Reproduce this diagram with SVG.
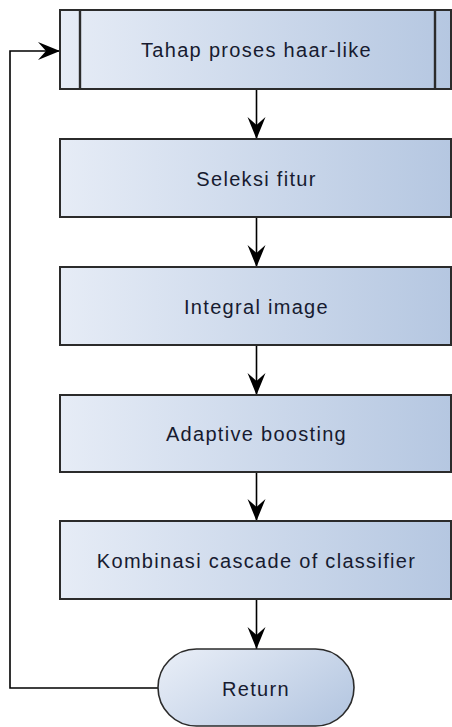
<svg xmlns="http://www.w3.org/2000/svg" width="452" height="727" viewBox="0 0 452 727">
  <defs>
    <linearGradient id="fill" x1="0" y1="0" x2="1" y2="0">
      <stop offset="0" stop-color="#e6ecf6"/>
      <stop offset="1" stop-color="#b5c7e1"/>
    </linearGradient>
    <linearGradient id="fillTerm" x1="0" y1="0.2" x2="1" y2="0.8">
      <stop offset="0" stop-color="#e6ecf6"/>
      <stop offset="1" stop-color="#b5c7e1"/>
    </linearGradient>
    <marker id="arrow" viewBox="0 -10 23 20" refX="22" refY="0" markerWidth="23" markerHeight="20" markerUnits="userSpaceOnUse" orient="auto">
      <path d="M0,-9 L22,0 L0,9 L8,0 Z" fill="#000"/>
    </marker>
  </defs>
  <style>
    .box { fill: url(#fill); stroke: #2b2b2b; stroke-width: 2; }
    .term { fill: url(#fillTerm); stroke: #2b2b2b; stroke-width: 1.6; }
    .bar { stroke: #2b2b2b; stroke-width: 2.4; }
    .label { font-family: "Liberation Sans", Arial, sans-serif; font-size: 20px; letter-spacing: 1.3px; fill: #171b30; text-anchor: middle; }
    .conn { fill: none; stroke: #000; stroke-width: 1.6; marker-end: url(#arrow); }
  </style>

  <!-- flow connectors -->
  <g id="connectors">
    <path class="conn" d="M256.5,89 V139"/>
    <path class="conn" d="M256.5,217 V267"/>
    <path class="conn" d="M256.5,345 V395"/>
    <path class="conn" d="M256.5,472 V521"/>
    <path class="conn" d="M256.5,599 V649"/>
    <path class="conn" d="M158,688 H10 V51 H60"/>
  </g>

  <!-- predefined process: haar-like stage -->
  <g id="node-haar">
    <rect class="box" x="60" y="10" width="391" height="79"/>
    <line class="bar" x1="80" y1="10" x2="80" y2="89"/>
    <line class="bar" x1="435" y1="10" x2="435" y2="89"/>
    <text class="label" x="256.5" y="57">Tahap proses haar-like</text>
  </g>

  <g id="node-seleksi">
    <rect class="box" x="60" y="139" width="391" height="78"/>
    <text class="label" x="256.5" y="185.5">Seleksi fitur</text>
  </g>

  <g id="node-integral">
    <rect class="box" x="60" y="267" width="391" height="78"/>
    <text class="label" x="256.5" y="313.5">Integral image</text>
  </g>

  <g id="node-adaboost">
    <rect class="box" x="60" y="395" width="391" height="77"/>
    <text class="label" x="256.5" y="441">Adaptive boosting</text>
  </g>

  <g id="node-cascade">
    <rect class="box" x="60" y="521" width="391" height="78"/>
    <text class="label" x="256.5" y="567.5">Kombinasi cascade of classifier</text>
  </g>

  <!-- terminator -->
  <g id="node-return">
    <rect class="term" x="158" y="649" width="196" height="77" rx="38.5" ry="38.5"/>
    <text class="label" x="256" y="695.5">Return</text>
  </g>
</svg>
